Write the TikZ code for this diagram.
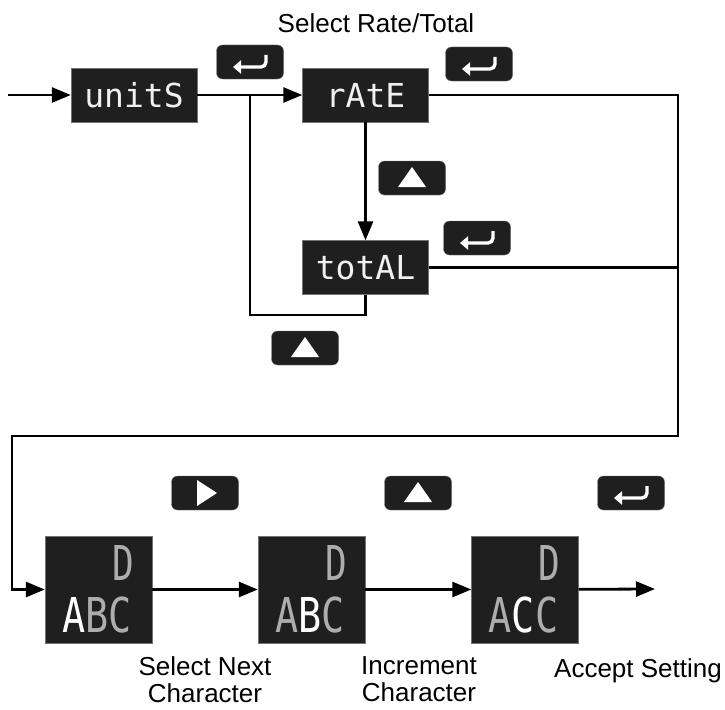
\documentclass[tikz,border=0pt]{standalone}
\usepackage{fontspec}
\setmainfont{Liberation Sans}
\newfontfamily\segfont{DejaVu Sans Mono}
\usetikzlibrary{arrows.meta}

\colorlet{segoff}{black!32}
\colorlet{segon}{white}

\tikzset{
  lcd/.style={draw=black!55, fill=black!88, minimum width=126pt, minimum height=54pt,
    inner sep=0pt, text=black!6, font=\segfont\fontsize{33}{33}\selectfont},
  lcdsq/.style={lcd, minimum width=107pt, minimum height=107pt},
  seg/.style={inner sep=0pt, text=segoff, font=\segfont\fontsize{48}{48}\selectfont},
  key/.style={draw=black!55, fill=black!88, rounded corners=6pt, minimum width=67pt,
    minimum height=34pt, inner sep=0pt},
  keysym/.style={white, line width=3.4pt},
  wire/.style={line width=2.8pt},
  flow/.style={wire, -{Triangle[length=19pt,width=15pt]}},
  lbl/.style={inner sep=0pt, align=center, font=\fontsize{26}{27}\selectfont}
}

% key symbols, drawn over a key node
\newcommand{\enterkey}[1]{\draw[keysym, rounded corners=5pt, -{Triangle[length=8pt,width=13pt]}]
  ([shift={(16,-7)}]#1.center) -- ([shift={(16,5)}]#1.center) -- ([shift={(-17,5)}]#1.center);}
\newcommand{\upkey}[1]{\fill[white] ([shift={(0,-11)}]#1.center) -- ([shift={(-14,9)}]#1.center)
  -- ([shift={(14,9)}]#1.center) -- cycle;}
\newcommand{\rightkey}[1]{\fill[white] ([shift={(-8,-13)}]#1.center) -- ([shift={(-8,13)}]#1.center)
  -- ([shift={(12,0)}]#1.center) -- cycle;}

\begin{document}
\begin{tikzpicture}[x=1pt, y=-1pt]
  \useasboundingbox (0,0) rectangle (725,709);

  % top part: units, rate, total
  \node[lbl, anchor=north] (title) at (376,13) {Select Rate/Total};
  \node[lcd] (un) at (134,95) {unitS};
  \node[lcd] (ra) at (365.5,95) {rAtE};
  \node[lcd] (to) at (365.5,267.5) {totAL};

  \node[key] (k1) at (250,62) {}; \enterkey{k1}
  \node[key] (k2) at (479,64) {}; \enterkey{k2}
  \node[key] (k3) at (412,178) {}; \upkey{k3}
  \node[key] (k4) at (477,238) {}; \enterkey{k4}
  \node[key] (k5) at (305,348) {}; \upkey{k5}

  \coordinate (in) at (8,95);
  \coordinate (br) at (250,95);
  \coordinate (lp) at (250,315);
  \coordinate (ne) at (678,95);
  \coordinate (se) at (678,436);
  \coordinate (sw) at (12,436);

  \draw[flow] (in) -- (un);
  \draw[flow] (un) -- (ra);
  \draw[flow] (ra) -- (to);
  \draw[wire] (br) -- (lp) -| (to.south);
  \draw[wire] (to) -- (to -| ne);

  % bottom part: edit characters
  \node[lcdsq] (b1) at (98.5,589.5) {};
  \node[lcdsq] (b2) at (311.5,589.5) {};
  \node[lcdsq] (b3) at (525,589.5) {};
  \foreach \b in {b1,b2,b3}
    \node[seg] (\b d) at ([shift={(24.5,-27)}]\b.center) {\scalebox{0.75}[1]{D}};
  \node[seg] (b1t) at ([shift={(-1.5,26)}]b1.center) {\scalebox{0.8}[1]{\textcolor{segon}{A}BC}};
  \node[seg] (b2t) at ([shift={(-1.5,26)}]b2.center) {\scalebox{0.8}[1]{A\textcolor{segon}{B}C}};
  \node[seg] (b3t) at ([shift={(-1.5,26)}]b3.center) {\scalebox{0.8}[1]{A\textcolor{segon}{C}C}};

  \node[key] (k6) at (205,493) {}; \rightkey{k6}
  \node[key] (k7) at (418,493) {}; \upkey{k7}
  \node[key] (k8) at (631,493) {}; \enterkey{k8}

  \coordinate (out) at (655,589);
  \draw[flow] (ra) -- (ne) -- (se) -- (sw) |- (b1);
  \draw[flow] (b1) -- (b2);
  \draw[flow] (b2) -- (b3);
  \draw[flow] (b3) -- (out);

  \node[lbl, anchor=north] (l1) at (205,656) {Select Next\\Character};
  \node[lbl, anchor=north] (l2) at (419,656) {Increment\\Character};
  \node[lbl, anchor=north] (l3) at (638,658) {Accept Setting};
\end{tikzpicture}
\end{document}
